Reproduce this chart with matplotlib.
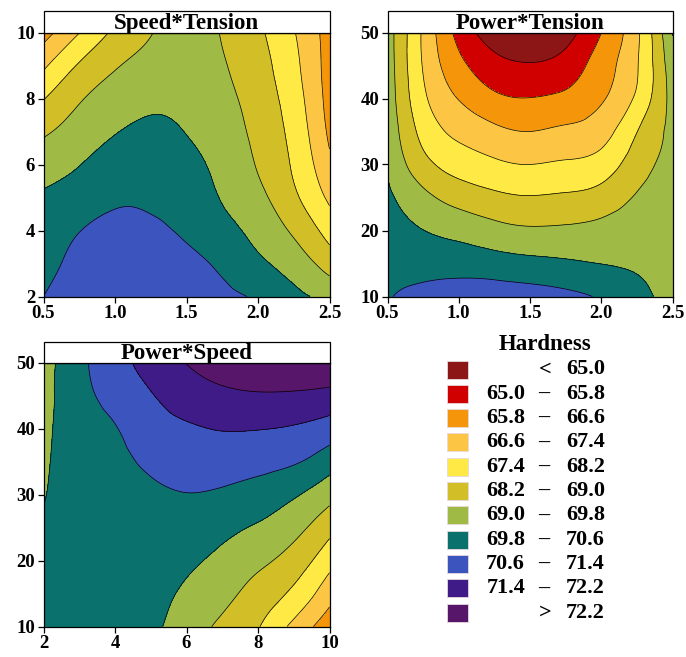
import numpy as np
import matplotlib
matplotlib.use("Agg")
import matplotlib.pyplot as plt
import matplotlib.tri as mtri
from matplotlib.patches import Rectangle

plt.rcParams["font.family"] = ["Liberation Serif", "DejaVu Serif"]
plt.rcParams["font.weight"] = "bold"

# Hardness contour bands
bounds = [65.0, 65.8, 66.6, 67.4, 68.2, 69.0, 69.8, 70.6, 71.4, 72.2]
band_colors = ["#8C1515", "#D00000", "#F5960A", "#FDC544", "#FFE945", "#D2BE26",
               "#A0BB45", "#0A716D", "#3C54BD", "#3E1B86", "#57166A"]

# Speed*Tension (x = Tension, y = Speed)
st_x = [0.5, 0.75, 1.0, 1.25, 1.5, 1.75, 2.0, 2.25, 2.5]
st_y = [2, 3, 4, 5, 6, 7, 8, 9, 10]
st_z = [
    [70.60, 70.95, 71.10, 71.15, 71.00, 70.75, 70.50, 70.00, 69.60],
    [70.36, 70.80, 71.00, 71.00, 70.80, 70.46, 69.96, 69.44, 68.66],
    [70.12, 70.58, 70.80, 70.75, 70.48, 70.07, 69.55, 68.87, 67.89],
    [69.89, 70.17, 70.48, 70.46, 70.24, 69.75, 69.20, 68.36, 67.25],
    [69.45, 69.78, 70.12, 70.20, 70.00, 69.58, 68.94, 68.09, 66.77],
    [68.88, 69.36, 69.76, 69.94, 69.78, 69.41, 68.79, 67.93, 66.45],
    [68.16, 68.92, 69.36, 69.64, 69.60, 69.25, 68.64, 67.77, 66.30],
    [67.26, 68.28, 68.93, 69.30, 69.45, 69.08, 68.49, 67.61, 66.25],
    [66.27, 67.38, 68.35, 68.96, 69.35, 68.95, 68.34, 67.45, 66.25],
]

# Power*Tension (x = Tension, y = Power)
pt_x = [0.5, 0.75, 1.0, 1.25, 1.5, 1.75, 2.0, 2.25, 2.5]
pt_y = [10, 15, 20, 25, 30, 35, 40, 45, 50]
pt_z = [
    [70.55, 70.85, 71.05, 71.05, 70.95, 70.80, 70.50, 70.00, 69.60],
    [70.40, 70.30, 70.27, 70.16, 70.03, 69.92, 69.79, 69.69, 69.50],
    [70.20, 69.81, 69.55, 69.27, 69.11, 69.13, 69.22, 69.38, 69.35],
    [69.95, 69.22, 68.69, 68.39, 68.25, 68.33, 68.54, 69.07, 69.25],
    [69.72, 68.48, 67.86, 67.55, 67.40, 67.51, 67.76, 68.64, 69.20],
    [69.60, 67.95, 67.20, 66.79, 66.60, 66.75, 67.06, 68.18, 69.20],
    [69.50, 67.57, 66.57, 65.97, 65.82, 66.00, 66.51, 67.56, 69.30],
    [69.45, 67.35, 66.03, 65.28, 65.07, 65.34, 66.20, 67.34, 69.50],
    [69.40, 67.28, 65.55, 64.58, 64.23, 64.67, 65.80, 67.25, 69.85],
]

# Power*Speed (x = Speed, y = Power)
ps_x = [2, 3, 4, 5, 6, 7, 8, 9, 10]
ps_y = [10, 15, 20, 25, 30, 35, 40, 45, 50]
ps_z = [
    [70.20, 70.30, 70.20, 69.95, 69.42, 68.84, 68.25, 67.19, 66.13],
    [70.10, 70.25, 70.20, 70.05, 69.67, 69.23, 68.70, 68.02, 66.91],
    [70.00, 70.20, 70.25, 70.20, 69.96, 69.60, 69.18, 68.66, 67.69],
    [69.90, 70.20, 70.30, 70.30, 70.27, 70.02, 69.71, 69.26, 68.46],
    [69.75, 70.20, 70.35, 70.45, 70.58, 70.49, 70.28, 69.90, 69.29],
    [69.65, 70.25, 70.45, 70.74, 70.95, 70.96, 70.85, 70.68, 70.16],
    [69.55, 70.30, 70.57, 71.05, 71.31, 71.44, 71.43, 71.33, 71.05],
    [69.50, 70.35, 70.85, 71.35, 71.76, 72.02, 72.12, 72.09, 71.96],
    [69.45, 70.40, 71.10, 71.71, 72.22, 72.59, 72.78, 72.85, 72.87],
]

W, H = 686, 657
fig = plt.figure(figsize=(W / 100, H / 100), dpi=100)

levels = [0] + bounds + [200]


def panel(rect_px, x, y, z, title, xticks, xlabels, yticks):
    l, t, r, b = rect_px
    ax = fig.add_axes([l / W, (H - b) / H, (r - l) / W, (b - t) / H])
    # smooth the read grid with matplotlib's own triangulation refiner
    gx, gy = np.meshgrid(x, y)
    sx = (x[-1] - x[0])
    sy = (y[-1] - y[0])
    tri = mtri.Triangulation(gx.ravel() / sx, gy.ravel() / sy)
    fine, zf = mtri.UniformTriRefiner(tri).refine_field(np.ravel(z), subdiv=5)
    fine = mtri.Triangulation(fine.x * sx, fine.y * sy, fine.triangles)
    ax.tricontourf(fine, zf, levels=levels, colors=band_colors)
    ax.tricontour(fine, zf, levels=bounds, colors="black", linewidths=0.5)
    ax.set_xlim(x[0], x[-1])
    ax.set_ylim(y[0], y[-1])
    ax.set_xticks(xticks)
    ax.set_xticklabels(xlabels)
    ax.set_yticks(yticks)
    ax.tick_params(direction="out", length=4, width=0.9, labelsize=13.5, pad=2)
    for s in ax.spines.values():
        s.set_linewidth(0.9)
        s.set_zorder(4)
    hbox = 21 / (b - t)
    ax.add_patch(Rectangle((0, 1), 1, hbox, transform=ax.transAxes, facecolor="white",
                           edgecolor="black", linewidth=0.9, clip_on=False, zorder=5))
    ax.text(0.5, 1 + 3.5 / (b - t), title, transform=ax.transAxes, ha="center",
            va="baseline", fontsize=16.5, fontweight="bold", zorder=6)
    return ax


panel((43.5, 32.5, 329.5, 296.5), st_x, st_y, st_z, "Speed*Tension",
      [0.5, 1.0, 1.5, 2.0, 2.5], ["0.5", "1.0", "1.5", "2.0", "2.5"], [2, 4, 6, 8, 10])
panel((387.5, 32.5, 672.5, 296.5), pt_x, pt_y, pt_z, "Power*Tension",
      [0.5, 1.0, 1.5, 2.0, 2.5], ["0.5", "1.0", "1.5", "2.0", "2.5"], [10, 20, 30, 40, 50])
panel((43.5, 362.5, 329.5, 626.5), ps_x, ps_y, ps_z, "Power*Speed",
      [2, 4, 6, 8, 10], ["2", "4", "6", "8", "10"], [10, 20, 30, 40, 50])

# legend drawn in pixel coordinates
leg = fig.add_axes([0, 0, 1, 1])
leg.set_xlim(0, W)
leg.set_ylim(H, 0)
leg.axis("off")
leg.text(545, 345, "Hardness", ha="center", va="center", fontsize=16.5, fontweight="bold")
row0, dy = 369.5, 24.33
fs = 16
for i, c in enumerate(band_colors):
    yc = row0 + i * dy
    leg.add_patch(Rectangle((447, yc - 9), 21, 18, facecolor=c, edgecolor="#e8d8dc", linewidth=0.6))
    if i == 0:
        leg.text(545, yc, "<", ha="center", va="center", fontsize=fs)
        leg.text(566, yc, f"{bounds[0]:.1f}", ha="left", va="center", fontsize=fs)
    elif i == len(band_colors) - 1:
        leg.text(545, yc, ">", ha="center", va="center", fontsize=fs)
        leg.text(566, yc, f"{bounds[-1]:.1f}", ha="left", va="center", fontsize=fs)
    else:
        leg.text(525, yc, f"{bounds[i - 1]:.1f}", ha="right", va="center", fontsize=fs)
        leg.text(544, yc, "\u2013", ha="center", va="center", fontsize=fs)
        leg.text(566, yc, f"{bounds[i]:.1f}", ha="left", va="center", fontsize=fs)

fig.savefig("out.png", dpi=100)
